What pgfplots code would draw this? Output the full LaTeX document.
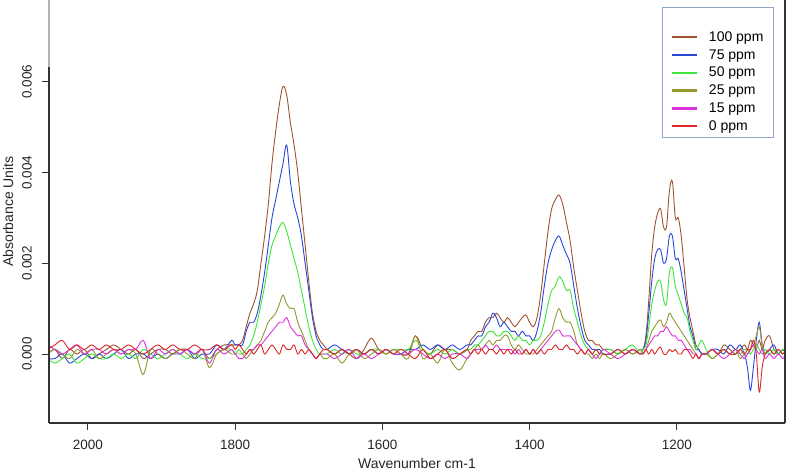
\documentclass[border=0pt]{standalone}
\usepackage{fontspec}
\setmainfont{Liberation Sans}
\usepackage{pgfplots}
\usepackage{pgfplotstable}
\pgfplotsset{compat=1.18}
\usetikzlibrary{calc}

\definecolor{c100}{RGB}{160,82,45}
\definecolor{c75}{RGB}{40,70,220}
\definecolor{c50}{RGB}{60,230,60}
\definecolor{c25}{RGB}{150,150,50}
\definecolor{c15}{RGB}{220,50,220}
\definecolor{c0}{RGB}{220,40,40}
\definecolor{legframe}{RGB}{143,168,200}

% absorbance in units of 1e-4
\pgfplotstableread{
x    a100 a75 a50 a25  a15 a0
2055  0   -1  -1   0    2   1
2045  1   -1  -2   1    1   2
2035 -1    0  -1   0    0   3
2025  1   -2   0  -1    1   1
2015  0   -1  -2   1    2   2
2005  1    0  -1   0    0   1
1995 -1   -1   0   1    1   2
1985  0    0  -1  -1    1   1
1975  1   -1  -1   0    0   2
1965  2    0   0   1    1   1
1955  1    1  -1   0    0   1
1945  0   -1   0   1    1   2
1935  1    0  -1   0    1   1
1925 -1    0   1  -4.5  3   0
1915  0   -1   0   1   -1   1
1905  1    0  -1   0    1   2
1895  1   -1   0  -1    0   1
1885  0    0   1   0    1   2
1875  1    0   0   1    0   1
1865  1    1  -1   0    1   1
1855  0   -1   0  -1    0   2
1845  1    0  -1   1    1   1
1835 -1    0  -1  -3   -2   1
1825  1    2   0   0    1   2
1815  2    1   1   1    0   1
1805  2    3   1   0    1   2
1800  2    2   0   0    0   1
1795  2    2   1   0   -1   2
1790  3    2   0   0   -1   1
1785  6    5   1  -1    0   0
1780  9    7   2   0    1   1
1775 11    7   4   1    1   0
1770 14    9   7   2    2   1
1765 20   13  11   3    2   2
1760 26   18  15   5    3   0
1755 33   24  20   7    4   1
1750 42   30  24   8    5   2
1745 49   34  26   9    6   1
1740 55   38  28  11    7   0
1735 59   42  29  13    7   2
1730 57   46  27  11    8   1
1725 51   38  24  10    6   1
1720 46   33  21  10    5   2
1715 40   30  18   7    4   0
1710 32   26  14   5    4   1
1705 24   20  10   3    2   0
1700 16   14   6   1    1   1
1695  9    8   3   0    0   0
1690  5    4   1  -1   -1  -1
1685  3    2   0   0    0   0
1680  2    1   0  -1    0   1
1675  1    1   0  -1    0   1
1665  0    2   1   0   -1   0
1655  1    1   0  -2    0   1
1645  0    0   1   0    1   0
1635 -1    1   0   1   -1   1
1625  1    0   0  -1    0   0
1615  3.5  1   1   0   -1   1
1605  1    0   1   1    0   0
1595  0    1   0   0    1   1
1585  1    0   1   1    0   0
1575  0    0   1   0    0   1
1565  0    1   1  -1    0   0
1555  4    1   3   4    1  -1
1545  1    2   1  -1    0   1
1535  0    1   0   0   -1  -1
1525  2    2   1  -2    0   0
1515  1    1   0   1   -1   1
1505  1    2   1  -2    0  -1
1495  0    1   0  -3.5  0   0
1485  1    2   1  -1   -1   1
1480  3    2   1   0    0   0
1475  4    3   2   1    1   1
1470  5    4   2   2    1   0
1465  5    4   3   1    1   1
1460  7    6   4   2    2   0
1455  8    7   5   3    1   1
1450  8    9   5   2    1   1
1445  9    8   4   3    2   0
1440  8    6   4   3    1   1
1435  7    7   5   4    1   0
1430  8    6   5   4    1   1
1425  7    5   4   2    1   0
1420  6    5   3   1    0   1
1415  7    4   4   2    1   0
1410  8    5   3   1    0   0
1405  8.6  4   3   0    1   1
1400  7    4   2   0    0   0
1395  6    3   3   0    1   1
1390  8    5   3   1    0   0
1385 13    9   4   2    1   1
1380 20   15   7   3    2   0
1375 27   20  11   4    3   1
1370 32   23  14   5    4   1
1365 34   25  15   8    5   2
1360 35   26  17  10    5.3 1
1355 33   24  16   8    4   1
1350 29   22  14   7    4   2
1345 25   20  14   7    4   1
1340 19   15  10   5    3   1
1335 14   10   7   2    2   0
1330  9    6   4   1    1   1
1325  5    3   2   0    0   0
1320  3    2   1   0    1   1
1315  3    1   0  -1    0   0
1310  2    1   1   0   -1   1
1305  2    1   0  -1    0   0
1300  1    0   1   0    1   0
1290  1    0   1  -1    0   0
1280  0    1   0   0   -1   1
1270  1    0   1   1    0   0
1260  0    1   2   0    1   1
1250  1    0   0   1    0   0
1246  1    1   1   0    0   0
1242  4    3   2   1    1   1
1238 12    9   6   3    2   0
1234 22   16  11   5    3   1
1230 28   21  14   6    4   0
1226 31   23  16   7    4   1
1222 32   23  16   7.5  5   1.5
1218 28   20  12   6    5   0
1214 28   21  11   7    6   0
1210 36   26  18   9    5   1
1206 38   26  19   8    4   0.5
1202 30   21  15   7    4   1
1198 30   21  13   6    3   0
1194 26   18  11   5    3   0
1190 19   14   9   4    2   1
1186 12   10   8   3    1   1
1182  8    6   5   2    1   0
1178  5    4   3   1    0  -1
1174  2    1   1   0    0   0
1170  1    1   2  -1   -1  -1
1166  0    0   3   0    0   0
1160  0    0   1   0    0   0
1152  1    1  -1  -1    1   1
1144  0    1   0   0    0   0
1136  2    0   1   1   -1   1
1128  1    2   0   0    0   0
1120  0    1   1   1    1   0
1114  1    2   0  -1    0   1
1108  2    0   1   0   -1   0
1104  1   -3   1   0    0   1
1100  3   -8   0   1    1   1
1096  2   -3   1   2    2   3
1092  1    3   2   4    1   0
1088  3    7   1   6    0  -8.4
1084  1    2   0   2    1  -3
1080  3    0   1   0   -1   0
1074  4    1   0   1    0   1
1068  1    2   1   0   -1   0
1062  0    0   0   1    0   1
1056  1    1   1   0   -1   0
1052  0    0   1   1    0   1
}\spectra

\begin{document}
\begin{tikzpicture}
\begin{axis}[
    name=ax,
    scale only axis,
    width=736pt, height=423pt,
    xmin=1053, xmax=2053, x dir=reverse,
    ymin=-15.2, ymax=78,
    axis x line*=bottom, axis y line*=left,
    axis line style={line width=1.1pt, black!80},
    y axis line style={black!30},
    xtick={1200,1400,1600,1800,2000},
    ytick={0,20,40,60},
    yticklabels={},
    /pgf/number format/1000 sep={},
    /pgf/number format/assume math mode=true,
    tick align=outside, major tick length=7pt,
    tick style={line width=1pt, black!80},
    ticklabel style={font=\fontsize{13.5}{15}\selectfont, text=black!85},
    xticklabel style={yshift=-7pt},
    xlabel={Wavenumber cm-1},
    ylabel={Absorbance Units},
    label style={font=\fontsize{14}{16}\selectfont, text=black!85},
    xlabel style={at={(axis description cs:0.5,-0.0946)}, anchor=center},
    ylabel style={at={(axis description cs:-0.0557,0.5)}, anchor=center},
    every axis plot/.append style={line width=0.9pt, smooth, tension=0.55, no markers},
    legend image code/.code={\draw[#1, line width=2.4pt] (0pt,0pt) -- (25pt,0pt);},
    legend cell align=left,
    legend style={
        at={(axis description cs:0.833,0.983)}, anchor=north west,
        draw=legframe, line width=1pt,
        font=\fontsize{14}{16}\selectfont,
        inner xsep=8pt, inner ysep=4pt, row sep=2.6pt,
        nodes={inner sep=2pt},
        /tikz/every odd column/.append style={column sep=9pt},
    },
]
\addlegendimage{empty legend}
\addlegendentry{\phantom{0 ppm}}
\addplot[c100] table[x=x, y=a100] {\spectra};
\addlegendentry{100 ppm}
\addplot[c75] table[x=x, y=a75] {\spectra};
\addlegendentry{75 ppm}
\addplot[c50] table[x=x, y=a50] {\spectra};
\addlegendentry{50 ppm}
\addplot[c25] table[x=x, y=a25] {\spectra};
\addlegendentry{25 ppm}
\addplot[c15] table[x=x, y=a15] {\spectra};
\addlegendentry{15 ppm}
\addplot[c0] table[x=x, y=a0] {\spectra};
\addlegendentry{0 ppm}
\end{axis}
\draw[line width=1.1pt, black!80] (ax.south east) -- (ax.north east);
\draw[line width=1.1pt, black!80] (ax.south west) -- ($(ax.south west)!0.842!(ax.north west)$);
% y tick labels, R style (rotated, 22pt left of the axis)
\foreach \off/\lab in {69.0/0.000, 159.8/0.002, 250.5/0.004, 341.3/0.006}
  \node[rotate=90, font=\fontsize{13.5}{15}\selectfont, text=black!85]
    at ($(ax.south west)+(-22pt,\off pt)$) {\lab};
\pgfresetboundingbox
\path[use as bounding box] (-49pt,-48pt) rectangle (738pt,423pt);
\end{tikzpicture}
\end{document}
